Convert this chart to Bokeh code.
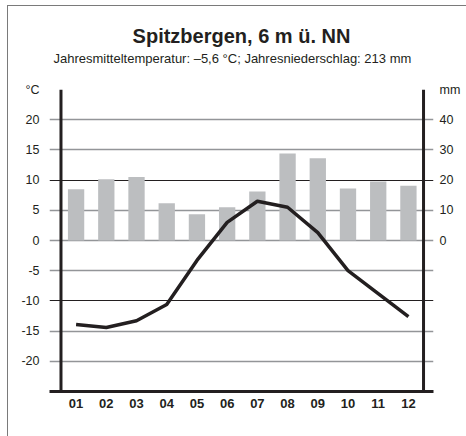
from bokeh.plotting import figure
from bokeh.models import (Range1d, LinearAxis, FixedTicker, Grid, Span, Title)
from bokeh.embed import file_html
from bokeh.resources import INLINE

# ---- data ----
months = [1, 2, 3, 4, 5, 6, 7, 8, 9, 10, 11, 12]
month_labels = ["01", "02", "03", "04", "05", "06", "07", "08", "09", "10", "11", "12"]
temperature_c = [-13.9, -14.4, -13.3, -10.6, -3.3, 3.0, 6.5, 5.5, 1.3, -5.0, -8.8, -12.6]
precip_mm = [17.0, 20.3, 21.0, 12.3, 8.7, 11.0, 16.2, 28.8, 27.2, 17.2, 19.5, 18.1]
temp_ticks = [-20, -15, -10, -5, 0, 5, 10, 15, 20, 25]
temp_labels = ["-20", "-15", "-10", "-5", "0", "5", "10", "15", "20", "°C"]
mm_ticks = [0, 10, 20, 30, 40, 50]
mm_labels = ["0", "10", "20", "30", "40", "mm"]
title_text = "Spitzbergen, 6 m ü. NN"
subtitle_text = "Jahresmitteltemperatur: \u20135,6 °C; Jahresniederschlag: 213 mm"

FONT = "Liberation Sans"
DARK = "#231f20"
GRAY = "#939598"
BAR = "#bcbec0"
FRAME = "#7a7a7a"

bg = (f"linear-gradient({FRAME},{FRAME}) 7px 5px / 1px 100% no-repeat, "
      f"linear-gradient({FRAME},{FRAME}) 7px 5px / 100% 1px no-repeat, white")

p = figure(width=466, height=436, output_backend="svg", toolbar_location=None,
           x_range=Range1d(0.12, 12.83), y_range=Range1d(-25, 25),
           min_border_left=49, min_border_right=33, min_border_top=89,
           min_border_bottom=45, title=title_text, y_axis_location=None,
           styles={"background": bg})
p.outline_line_color = None
p.background_fill_color = "white"
p.border_fill_color = None

p.title.text_font = FONT
p.title.text_font_size = "20px"
p.title.text_font_style = "bold"
p.title.text_color = DARK
p.title.align = "center"
p.title.standoff = 4

# spacer between frame and subtitle
p.add_layout(Title(text=" ", text_font=FONT, text_font_size="10px",
                   standoff=11), "above")
p.add_layout(Title(text=subtitle_text, text_font=FONT, text_font_size="13px",
                   text_font_style="normal", text_color=DARK, align="left",
                   standoff=0, offset=4), "above")

p.extra_y_ranges = {"mm": Range1d(-50, 50)}

# left axis
yl = LinearAxis(ticker=FixedTicker(ticks=temp_ticks),
                major_label_overrides={t: l for t, l in zip(temp_ticks, temp_labels)})
yl.axis_line_color = None
yl.major_tick_line_color = None
yl.minor_tick_line_color = None
yl.major_tick_out = 0
yl.minor_tick_out = 0
yl.major_label_standoff = 10
yl.major_label_text_font = FONT
yl.major_label_text_font_size = "12.5px"
yl.major_label_text_color = DARK
p.add_layout(yl, "left")

# right axis
yr = LinearAxis(y_range_name="mm", ticker=FixedTicker(ticks=mm_ticks),
                major_label_overrides={t: l for t, l in zip(mm_ticks, mm_labels)})
yr.axis_line_color = None
yr.major_tick_line_color = None
yr.minor_tick_line_color = None
yr.major_tick_out = 0
yr.minor_tick_out = 0
yr.major_label_standoff = 6
yr.major_label_text_font = FONT
yr.major_label_text_font_size = "12.5px"
yr.major_label_text_color = DARK
p.add_layout(yr, "right")

# x axis
xa = p.xaxis[0]
xa.ticker = FixedTicker(ticks=months)
xa.major_label_overrides = {m: l for m, l in zip(months, month_labels)}
xa.axis_line_color = DARK
xa.axis_line_width = 3
xa.major_tick_line_color = None
xa.minor_tick_line_color = None
xa.major_tick_out = 0
xa.minor_tick_out = 0
xa.major_label_standoff = 7
xa.major_label_text_font = FONT
xa.major_label_text_font_size = "13px"
xa.major_label_text_font_style = "bold"
xa.major_label_text_color = DARK

# grids
p.xgrid.visible = False
p.ygrid.visible = False
g1 = Grid(dimension=1, ticker=FixedTicker(ticks=[-20, -15, -5, 0, 5, 15, 20, 25]),
          grid_line_color=GRAY, grid_line_width=1.6)
g2 = Grid(dimension=1, ticker=FixedTicker(ticks=[-10, 10]),
          grid_line_color=DARK, grid_line_width=1)
p.add_layout(g1)
p.add_layout(g2)

# bars
p.vbar(x=months, top=precip_mm, bottom=0, width=0.54, y_range_name="mm",
       fill_color=BAR, line_color=None)

# vertical axis lines
p.add_layout(Span(location=0.5, dimension="height", line_color=DARK, line_width=3))
p.add_layout(Span(location=12.5, dimension="height", line_color=DARK, line_width=3))

# temperature line
p.line(months, temperature_c, line_color=DARK, line_width=3.5, line_join="round")

open("out.html", "w").write(file_html(p, INLINE))
